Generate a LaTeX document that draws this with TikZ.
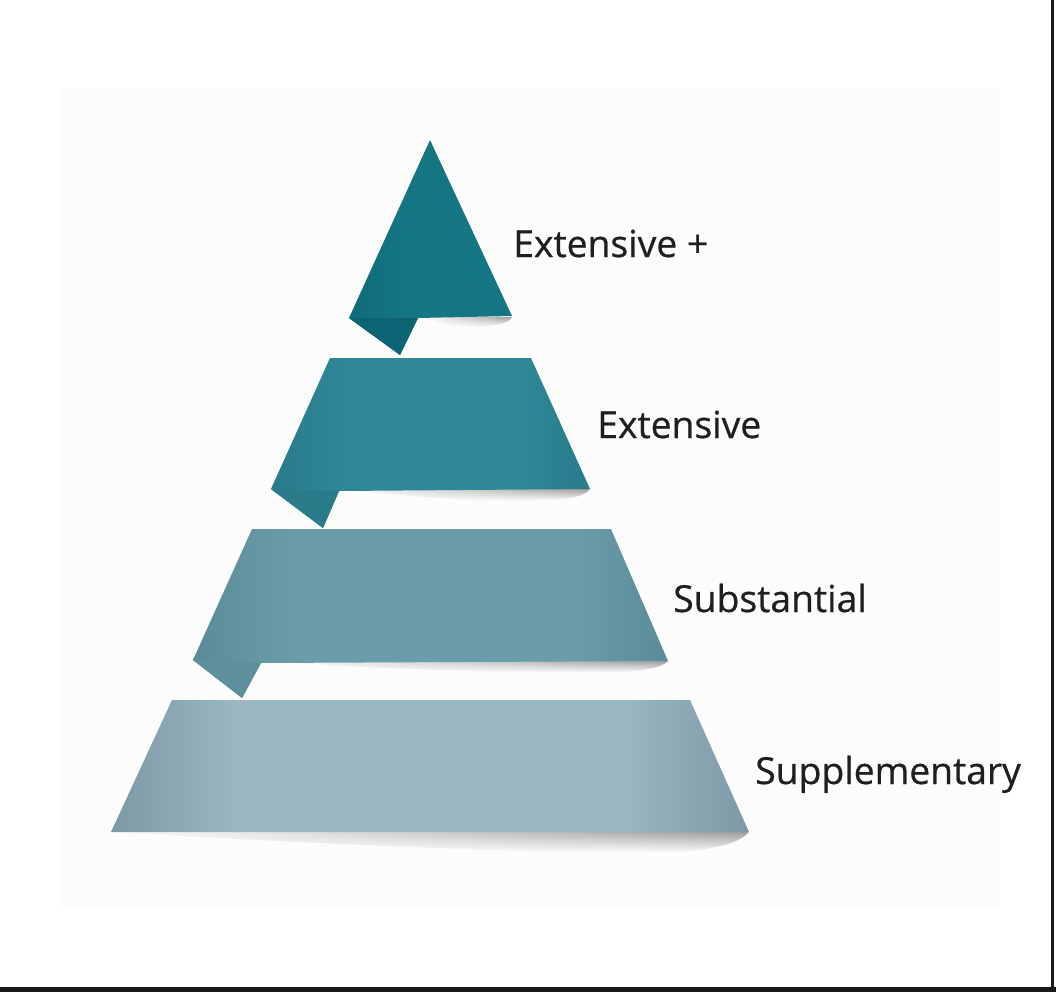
\documentclass[tikz,border=0pt]{standalone}
\usepackage{fontspec}
\setmainfont[FakeBold=0.6]{Open Sans}
\usetikzlibrary{fadings}
\definecolor{tierA}{HTML}{147583}
\definecolor{tierAedge}{HTML}{106C7A}
\definecolor{flapA}{HTML}{0C6472}
\definecolor{tierB}{HTML}{2F8898}
\definecolor{tierBedge}{HTML}{287A89}
\definecolor{flapB}{HTML}{297B89}
\definecolor{tierC}{HTML}{6A9CAA}
\definecolor{tierCedge}{HTML}{5A8B99}
\definecolor{flapC}{HTML}{5E8F9C}
\definecolor{tierD}{HTML}{9AB7C3}
\definecolor{tierDedge}{HTML}{7D99A5}
\pgfdeclarehorizontalshading{tierAshade}{100bp}{color(0bp)=(tierAedge); color(25bp)=(tierAedge); color(42bp)=(tierA); color(100bp)=(tierA)}
\pgfdeclarehorizontalshading{tierBshade}{100bp}{color(0bp)=(tierBedge); color(25bp)=(tierBedge); color(37bp)=(tierB); color(64bp)=(tierB); color(75bp)=(tierBedge); color(100bp)=(tierBedge)}
\pgfdeclarehorizontalshading{tierCshade}{100bp}{color(0bp)=(tierCedge); color(25bp)=(tierCedge); color(36bp)=(tierC); color(65bp)=(tierC); color(75bp)=(tierCedge); color(100bp)=(tierCedge)}
\pgfdeclarehorizontalshading{tierDshade}{100bp}{color(0bp)=(tierDedge); color(25bp)=(tierDedge); color(35bp)=(tierD); color(65bp)=(tierD); color(75bp)=(tierDedge); color(100bp)=(tierDedge)}
\tikzfading[name=shadowfade, left color=transparent!100, middle color=transparent!50, right color=transparent!0]
\tikzset{lbl/.style={anchor=base west, inner sep=0pt, text=black!88, font=\fontsize{26.5}{30}\selectfont},
  shadowband/.style={top color=black!38, bottom color=white, path fading=shadowfade}}

\begin{document}
\begin{tikzpicture}[x=0.025cm,y=-0.025cm]
    \useasboundingbox (0,0) rectangle (1056,992);
    \fill[white] (0,0) rectangle (1056,992);
    \fill[black!1] (62,88) rectangle (1000,910);
    \fill[black!90] (1051,0) rectangle (1054,992);
    \fill[black!90] (0,987) rectangle (1056,992);

    % shadows under the tiers
    \shade[shadowband] (425,317) -- (512,317) .. controls (508,325) and (490,327) .. (470,327) .. controls (450,327) and (435,320) .. (425,317) -- cycle;
    \shade[shadowband] (340,489) -- (590,489) .. controls (584,498) and (560,501) .. (520,501) .. controls (450,501) and (380,493) .. (340,489) -- cycle;
    \shade[shadowband] (262,661) -- (668,661) .. controls (660,670) and (630,673) .. (580,673) .. controls (480,673) and (330,666) .. (262,661) -- cycle;
    \shade[shadowband] (112,832) -- (749,832) .. controls (738,846) and (700,853) .. (640,853) .. controls (500,853) and (250,840) .. (112,832) -- cycle;

    % tiers
    \shade[shading=tierAshade] (430,140) -- (512,316) -- (418,318) -- (400,355) -- (349,318) -- cycle;
    \fill[flapA] (349,318) -- (418,318) -- (400,355) -- cycle;

    \shade[shading=tierBshade] (330,358) -- (531,358) -- (590,489) -- (339,491) -- (323,528) -- (271,489) -- cycle;
    \fill[flapB] (271,489) -- (339,491) -- (323,528) -- cycle;

    \shade[shading=tierCshade] (252,529) -- (611,529) -- (668,661) -- (261,663) -- (242,698) -- (193,660) -- cycle;
    \fill[flapC] (193,660) -- (261,663) -- (242,698) -- cycle;

    \shade[shading=tierDshade] (172,700) -- (690,700) -- (749,832) -- (111,832) -- cycle;

    \node[lbl] (extplus) at (513,257) {Extensive +};
    \node[lbl] (ext) at (597,438) {Extensive};
    \node[lbl] (subst) at (673,612) {Substantial};
    \node[lbl] (suppl) at (755,784) {Supplementary};
\end{tikzpicture}
\end{document}
